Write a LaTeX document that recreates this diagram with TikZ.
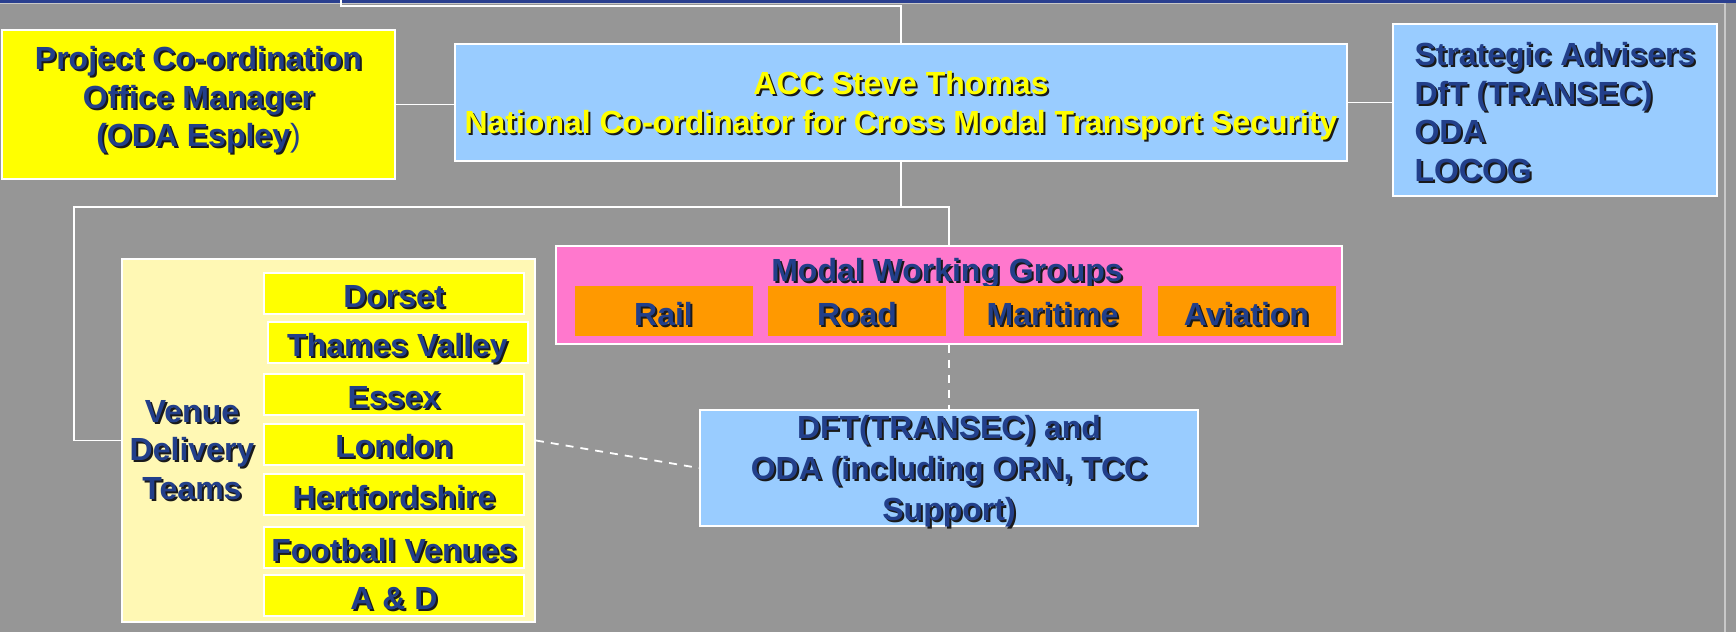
\documentclass[tikz,border=0pt]{standalone}
\usepackage{fontspec}
\setmainfont{Liberation Sans}
\usetikzlibrary{positioning}
\usepackage{xcolor}
\definecolor{slideGrey} {HTML}{969696}
\definecolor{slideNavy} {HTML}{2A3F8F}
\definecolor{slideRim}  {HTML}{C8C8C8}
\definecolor{orgInk}    {HTML}{223F8A}
\definecolor{orgShade}  {HTML}{1A1A1A}
\definecolor{chiefFill} {HTML}{99CCFF}
\definecolor{chiefInk}  {HTML}{FFFF00}
\definecolor{officeFill}{HTML}{FFFF00}
\definecolor{venueFill} {HTML}{FFF8B4}
\definecolor{modalFill} {HTML}{FF78CD}
\definecolor{modeFill}  {HTML}{FF9900}
\newcommand{\orgfont}{\fontsize{16}{19.3}\selectfont\bfseries}
\newcommand{\shd}[1]{\makebox[0pt][l]{\kern1pt\raisebox{-1pt}{\textcolor{orgShade}{#1}}}#1}
\newcommand{\padT}[1]{\rule{0pt}{#1}}
\newcommand{\padB}[1]{\rule[-#1]{0pt}{#1}}

\begin{document}
\begin{tikzpicture}[x=0.5pt, y=-0.5pt,
  every node/.style ={font=\orgfont, text=orgInk, inner sep=0pt},
  wire/.style       ={draw=white, line width=0.9pt},
  dwire/.style      ={wire, dash pattern=on 4pt off 3.5pt},
  frame/.style      ={draw=white, line width=1pt, align=center},
  chief/.style      ={frame, fill=chiefFill},
  office/.style     ={frame, fill=officeFill},
  venuebox/.style   ={frame, fill=venueFill, minimum width=206.5pt, minimum height=181.5pt},
  team/.style       ={frame, fill=officeFill, minimum width=130pt, minimum height=20.5pt, text height=14.7pt, text depth=1pt},
  modalbox/.style   ={frame, fill=modalFill, minimum width=393pt, minimum height=49pt},
  mode/.style       ={fill=modeFill, minimum width=89pt, minimum height=25pt, text height=15.3pt, text depth=1pt},
]

% slide background
\useasboundingbox (0,0) rectangle (1736,632);
\fill[slideGrey] (0,0) rectangle (1736,632);
\fill[slideNavy] (0,0) rectangle (1736,2.5);
\draw[slideRim, line width=0.6pt] (0,3.8) -- (1725,3.8) -- (1725,632);

% top row
\node[office, minimum width=196.5pt, minimum height=74.5pt] (proj) at (198.5,104.5)
  {\shd{Project Co-ordination}\\\shd{Office Manager}\\\shd{(ODA Espley}{\mdseries)}\padB{7.7pt}};
\node[chief, minimum width=446pt, minimum height=58.5pt, text=chiefInk] (acc) at (901,102.5)
  {\padT{16.1pt}\shd{ACC Steve Thomas}\\\shd{National Co-ordinator for Cross Modal Transport Security}};
\node[chief, minimum width=162pt, minimum height=86pt, align=left] (strat) at (1555,110)
  {\padT{14.5pt}\shd{Strategic Advisers}\\\shd{DfT (TRANSEC)}\\\shd{ODA}\\\shd{LOCOG}};

% modal working groups
\node[modalbox] (modal) at (949,294.5) {};
\node (modaltitle) at (947,274) {\shd{Modal Working Groups}};
\foreach \name/\x/\txt in {rail/663.5/Rail, road/857/Road, maritime/1052.5/Maritime, aviation/1246.5/Aviation}
  \node[mode] (\name) at (\x,311) {\shd{\txt}};

\node[chief, minimum width=249pt, minimum height=58pt, text height=55.05pt, text depth=2.95pt,
      font={\fontsize{16}{20.5}\selectfont\bfseries}] (dft) at (949,468)
  {\shd{DFT(TRANSEC) and}\\\shd{ODA (including ORN, TCC}\\\shd{Support)}};

% venue delivery teams
\node[venuebox] (venue) at (328.5,440.5) {};
\node[align=center] (venuetitle) at (192,451) {\shd{Venue}\\\shd{Delivery}\\\shd{Teams}};
\foreach \name/\x/\y/\txt in {dorset/394/293.5/Dorset, thames/397.5/342.5/Thames Valley,
    essex/394/394.5/Essex, london/394/444/London, herts/394/494.5/Hertfordshire,
    football/394/547.5/Football Venues, ad/394/595.5/{A \& D}}
  \node[team] (\name) at (\x,\y) {\shd{\txt}};

% connectors
\coordinate (topbend) at (341,6);
\coordinate (topend)  at (341,0);
\coordinate (hubL)    at (74,207);
\draw[wire] (acc.north) |- (topbend) -- (topend);
\draw[wire] (proj.east) -- (proj.east -| acc.west);
\draw[wire] (acc.east) -- (acc.east -| strat.west);
\draw[wire] (acc.south) -- (acc.south |- hubL);
\draw[wire] (modal.north) |- (hubL) |- (venue.west);
\draw[dwire] (modal.south) -- (dft.north);
\draw[dwire] (venue.east) -- (dft.west);

\end{tikzpicture}
\end{document}
